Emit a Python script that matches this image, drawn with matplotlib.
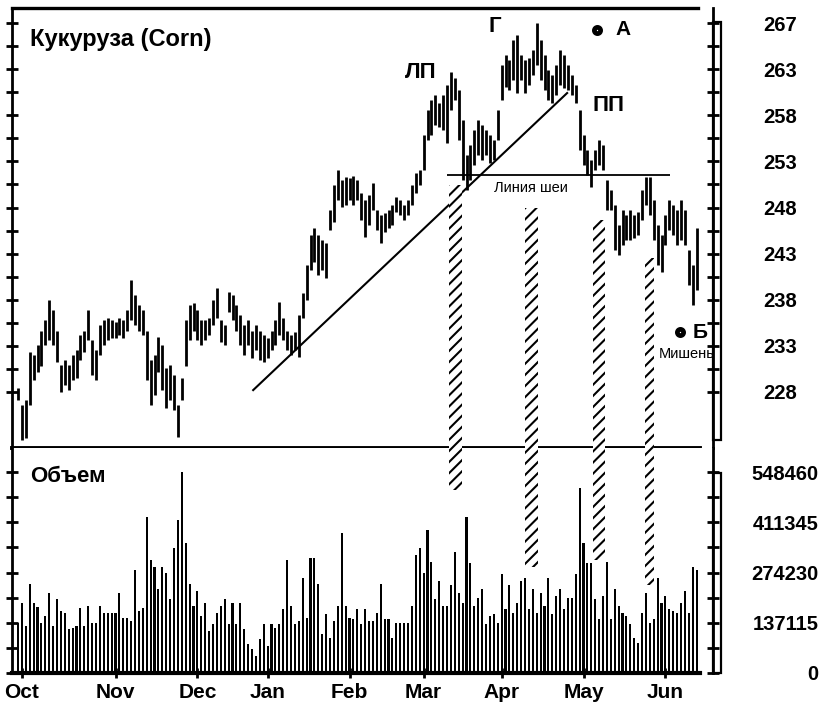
import matplotlib

matplotlib.use("Agg")

import matplotlib.pyplot as plt
import numpy as np
from matplotlib.patches import Rectangle

W, H = 822, 709
X0_PX, STEP_PX = 18.0, 3.9  # pixel position of first bar and bar spacing

# daily high / low of the corn contract
PRICE_HIGH = [
    228.4, 226.6, 227.2, 232.2, 231.9, 233.0, 234.5, 235.6, 237.7, 236.7,
    234.5, 230.9, 231.4, 230.9, 231.9, 232.4, 234.0, 234.5, 236.7, 233.5,
    232.4, 235.1, 235.6, 235.8, 235.6, 235.4, 235.8, 235.6, 236.7, 239.8,
    238.2, 237.2, 236.7, 234.5, 231.4, 231.9, 233.8, 233.0, 230.5, 230.9,
    229.8, 226.6, 229.5, 235.6, 237.2, 237.4, 236.7, 235.6, 235.6, 235.8,
    237.7, 239.0, 235.6, 235.1, 238.6, 238.2, 237.2, 236.1, 235.1, 235.6,
    234.5, 235.1, 234.5, 234.0, 233.7, 234.5, 235.6, 237.5, 235.8, 234.5,
    234.0, 234.3, 236.1, 238.5, 241.4, 244.6, 245.3, 244.6, 244.1, 243.8,
    247.2, 249.9, 251.5, 250.4, 250.7, 250.6, 250.8, 250.4, 249.0, 248.3,
    248.8, 250.1, 247.2, 246.7, 246.9, 247.2, 247.8, 248.6, 248.3, 247.8,
    248.3, 249.9, 251.1, 251.5, 255.2, 257.8, 258.9, 259.4, 258.5, 259.4,
    260.4, 261.8, 261.2, 259.9, 256.7, 253.0, 254.1, 255.7, 256.7, 256.2,
    255.7, 255.2, 254.6, 257.8, 262.6, 263.6, 263.1, 265.2, 265.7, 263.6,
    263.1, 263.3, 264.1, 267.0, 265.2, 263.6, 262.0, 261.5, 262.6, 264.1,
    263.6, 262.6, 261.5, 260.4, 257.8, 255.2, 253.6, 252.5, 253.6, 254.6,
    254.1, 250.4, 249.3, 247.8, 245.6, 247.2, 246.7, 247.2, 246.7, 247.0,
    249.3, 250.7, 250.7, 248.3, 245.6, 244.6, 246.7, 248.3, 247.8, 247.2,
    248.3, 247.2, 243.0, 241.4, 245.3,
]
PRICE_LOW = [
    227.2, 222.9, 223.1, 226.6, 229.3, 230.1, 230.8, 233.0, 233.5, 233.0,
    231.2, 228.0, 228.7, 228.2, 229.3, 229.5, 231.4, 232.2, 233.5, 229.8,
    229.3, 231.9, 233.0, 233.5, 233.7, 233.7, 234.0, 233.7, 234.5, 235.6,
    235.1, 234.5, 234.0, 229.3, 226.6, 227.7, 230.1, 228.2, 226.3, 227.2,
    226.1, 223.2, 227.2, 230.8, 233.5, 234.5, 233.5, 233.0, 233.5, 234.0,
    235.1, 235.8, 233.3, 233.0, 236.5, 235.6, 234.5, 233.0, 231.9, 233.0,
    231.6, 232.4, 231.4, 231.2, 231.6, 232.4, 233.0, 234.0, 233.5, 232.4,
    231.9, 232.4, 231.7, 235.8, 237.7, 240.9, 241.7, 240.4, 240.9, 240.0,
    245.1, 246.0, 248.3, 247.6, 247.8, 248.3, 247.8, 248.3, 246.2, 244.4,
    245.6, 247.2, 245.1, 243.7, 244.9, 245.3, 245.6, 247.0, 246.7, 246.2,
    246.7, 247.8, 249.0, 249.9, 251.5, 254.6, 255.2, 256.2, 256.0, 255.7,
    254.3, 257.8, 258.9, 254.6, 250.4, 249.3, 250.4, 252.0, 253.0, 252.5,
    253.0, 252.2, 252.5, 254.6, 258.9, 260.2, 259.9, 261.0, 259.6, 261.0,
    259.6, 260.4, 261.5, 262.6, 261.0, 259.9, 258.9, 258.5, 259.4, 260.4,
    260.1, 259.9, 259.4, 258.5, 253.6, 252.0, 250.9, 249.7, 251.5, 252.0,
    251.5, 247.2, 247.2, 243.0, 242.5, 243.5, 244.1, 244.1, 244.3, 244.6,
    246.2, 247.8, 246.7, 244.1, 241.4, 240.7, 243.5, 245.1, 244.6, 243.5,
    244.1, 243.5, 239.3, 237.2, 238.8,
]
# daily volume, thousands of contracts
VOLUME_K = [
    137, 192, 129, 244, 192, 180, 137, 156, 219, 129,
    203, 170, 165, 121, 123, 129, 178, 129, 184, 137,
    137, 184, 165, 165, 165, 165, 219, 151, 151, 143,
    280, 170, 178, 425, 307, 290, 230, 288, 274, 203,
    340, 417, 548, 356, 244, 184, 225, 156, 192, 115,
    134, 165, 184, 203, 134, 192, 134, 192, 121, 80,
    66, 47, 93, 134, 74, 134, 123, 134, 175, 307,
    184, 134, 143, 260, 151, 315, 313, 244, 107, 162,
    96, 143, 184, 381, 184, 151, 148, 175, 134, 175,
    143, 143, 165, 244, 148, 148, 96, 137, 137, 137,
    137, 184, 321, 340, 274, 389, 302, 203, 252, 184,
    184, 239, 329, 219, 192, 425, 299, 184, 206, 230,
    134, 156, 162, 137, 271, 175, 239, 165, 192, 252,
    260, 175, 230, 165, 219, 184, 260, 162, 211, 230,
    175, 206, 206, 271, 505, 356, 299, 299, 203, 148,
    211, 304, 148, 230, 184, 165, 156, 134, 96, 82,
    165, 219, 137, 148, 260, 192, 211, 175, 170, 165,
    192, 225, 165, 288, 280,
]

MONTHS = ["Oct", "Nov", "Dec", "Jan", "Feb", "Mar", "Apr", "May", "Jun"]
MONTH_START = [1, 25, 46, 64, 85, 104, 124, 145, 166]
PRICE_LABELS = ["228", "233", "238", "243", "248", "253", "258", "263", "267"]
VOLUME_LABELS = ["0", "137115", "274230", "411345", "548460"]
VOLUME_TICKS_K = [0, 137.115, 274.23, 411.345, 548.46]

TREND_X = [60.3, 140.8]
TREND_Y = [228.2, 259.6]
NECK_PRICE = 250.9
NECK_X = [110, 167.2]
TARGET_A = (148.5, 266.3)
TARGET_B = (169.7, 234.3)

plt.rcParams["font.family"] = ["Liberation Sans", "DejaVu Sans"]
plt.rcParams["hatch.linewidth"] = 1.5

AXIS_FONT = dict(fontweight="bold", fontsize=14.5)


def px_axes(fig, x0, y0, x1, y1, **kw):
    return fig.add_axes([x0 / W, 1 - y1 / H, (x1 - x0) / W, (y1 - y0) / H], **kw)


def idx(px):
    return (px - X0_PX) / STEP_PX


fig = plt.figure(figsize=(W / 100, H / 100), dpi=100)
n = len(PRICE_HIGH)
x = np.arange(n)
xlim = (idx(12), idx(713))
edge = (700 - 12) / (713 - 12)

# ---- price panel
ax = px_axes(fig, 12, 8, 713, 448)
ax.vlines(x, PRICE_LOW, PRICE_HIGH, color="black", lw=2.0)
ax.set_xlim(*xlim)
ax.set_ylim(222.08, 268.59)
ax.plot(TREND_X, TREND_Y, color="black", lw=1.5)
ax.hlines(NECK_PRICE, *NECK_X, color="black", lw=1.3)

tick_pos = np.linspace(228, 267, len(PRICE_LABELS))
ax.set_yticks(tick_pos)
ax.set_yticks(tick_pos[:-1] + np.diff(tick_pos) / 2, minor=True)
ax.tick_params(axis="y", which="both", left=True, right=True, labelleft=False,
               labelright=True, direction="inout", length=8, width=2, pad=32)
ax.set_yticklabels(PRICE_LABELS, **AXIS_FONT)
ax.set_xticks([])
for side in ["top", "bottom"]:
    ax.spines[side].set_visible(False)
ax.spines["left"].set_linewidth(2)
ax.spines["right"].set_linewidth(2)
ax.plot([0, (698 - 12) / (713 - 12)], [1, 1], transform=ax.transAxes, color="black",
        lw=2.4, clip_on=False)
ax.plot([0, edge], [0, 0], transform=ax.transAxes, color="black", lw=2.8, clip_on=False)

ax.text(idx(30), 265.3, "Кукуруза (Corn)", fontsize=17, fontweight="bold", va="center")
ax.text(idx(421), 261.8, "ЛП", fontsize=16, fontweight="bold", ha="center", va="center")
ax.text(idx(495), 266.6, "Г", fontsize=16, fontweight="bold", ha="center", va="center")
ax.text(idx(608), 258.3, "ПП", fontsize=16, fontweight="bold", ha="center", va="center")
ax.text(idx(531), 249.6, "Линия шеи", fontsize=10.5, ha="center", va="center")
for (tx, ty), lab, dx in [(TARGET_A, "A", 4.6), (TARGET_B, "Б", 3.2)]:
    ax.plot(tx, ty, "o", ms=4.5, mfc="white", mec="black", mew=3.4)
    ax.text(tx + dx, ty, lab, fontsize=15, fontweight="bold", va="center")
ax.text(idx(687), TARGET_B[1] - 2.3, "Мишень", fontsize=10.5, ha="center", va="center")

# ---- volume panel
axv = px_axes(fig, 12, 448, 713, 673)
vtop = 548.46 * 225 / 201
axv.bar(x, VOLUME_K, width=0.55, color="black")
axv.set_xlim(*xlim)
axv.set_ylim(0, vtop)
axv.set_yticks(VOLUME_TICKS_K)
axv.set_yticks(np.array(VOLUME_TICKS_K[:-1]) + 137.115 / 2, minor=True)
axv.tick_params(axis="y", which="both", left=True, right=True, labelleft=False,
                labelright=True, direction="inout", length=8, width=2, pad=72)
axv.set_yticklabels(VOLUME_LABELS, **AXIS_FONT)
for tick in axv.yaxis.get_major_ticks():
    tick.label2.set_horizontalalignment("right")
axv.set_xticks(MONTH_START)
axv.set_xticklabels(MONTHS, fontweight="bold", fontsize=15)
axv.tick_params(axis="x", direction="inout", length=7, width=2, pad=4)
axv.spines["top"].set_visible(False)
axv.spines["bottom"].set_visible(False)
axv.spines["left"].set_linewidth(2)
axv.spines["right"].set_linewidth(2)
axv.plot([0, edge], [0, 0], transform=axv.transAxes, color="black", lw=3, clip_on=False)
axv.text(idx(30), vtop * (673 - 477) / 225, "Объем", fontsize=16, fontweight="bold",
         va="center")

# ---- overlay in pixel space: hatched stripes and right-hand frame boxes
ov = fig.add_axes([0, 0, 1, 1], zorder=5)
ov.set_xlim(0, W)
ov.set_ylim(H, 0)
ov.axis("off")
ov.patch.set_visible(False)
for x0, y0, x1, y1 in [(449, 185, 462, 490), (525, 208, 538, 567),
                       (593, 220, 605, 560), (645, 258, 654, 585)]:
    ov.add_patch(Rectangle((x0, y0), x1 - x0, y1 - y0, facecolor="white",
                           edgecolor="black", hatch="///", lw=0))
for y0, y1 in [(22, 440), (473, 673)]:
    ov.add_patch(Rectangle((713, y0), 8, y1 - y0, fill=False, edgecolor="black", lw=1.6))

fig.savefig("out.png", dpi=100)
